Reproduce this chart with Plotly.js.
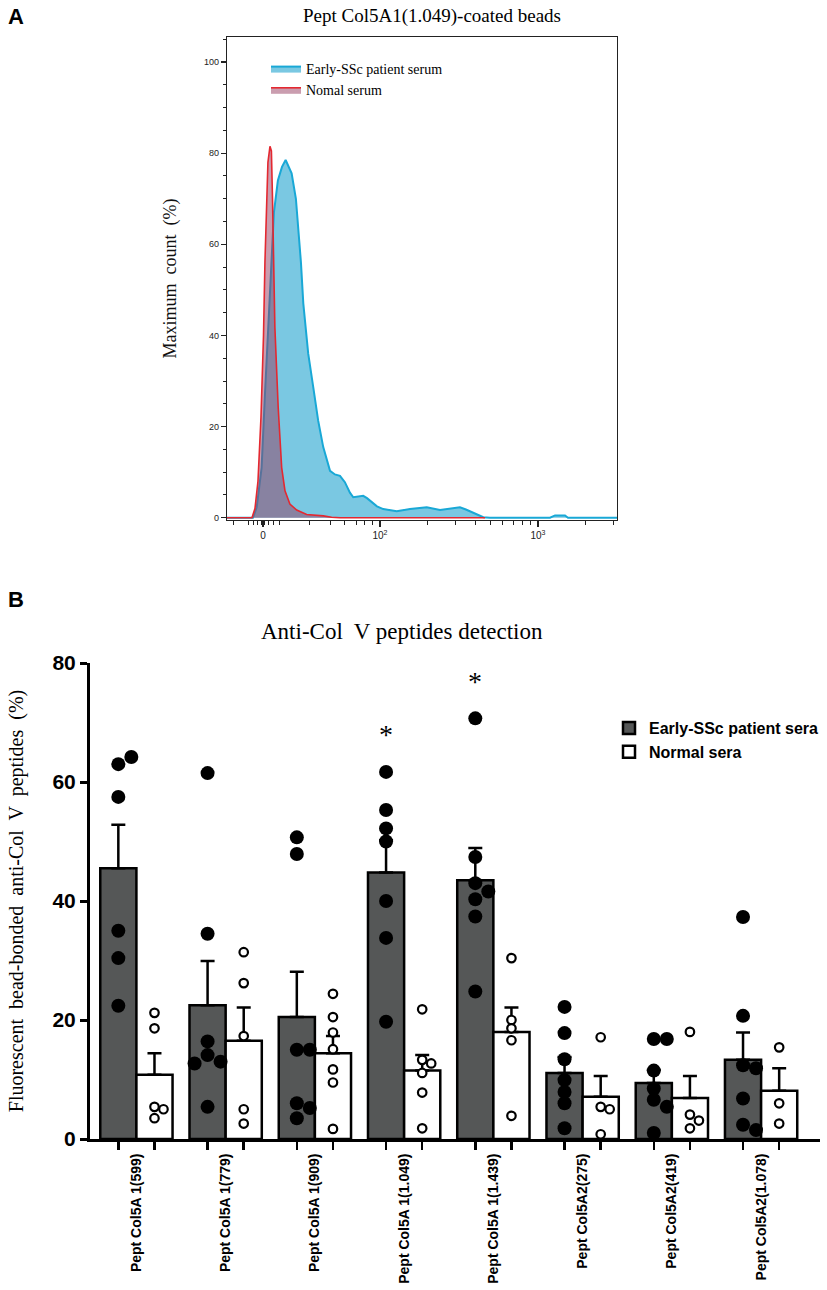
<!DOCTYPE html>
<html><head><meta charset="utf-8">
<script src="https://cdn.plot.ly/plotly-3.0.1.min.js"></script>
<style>html,body{margin:0;padding:0;background:#fff}#chart{width:827px;height:1290px}</style>
</head><body><div id="chart"></div>
<script>
// ---------- Panel A : flow cytometry histogram (display units: 2 = 10^2, 3 = 10^3) ----------
const fluorPatient = [1.032,1.196,1.220,1.251,1.272,1.293,1.315,1.329,1.354,1.380,1.403,1.421,1.441,1.468,1.487,1.500,1.515,1.546,1.578,1.609,1.641,1.684,1.715,1.747,1.778,1.810,1.831,1.861,1.894,1.918,1.947,1.981,2.021,2.106,2.190,2.296,2.380,2.443,2.506,2.544,2.580,2.620,2.654,2.696,3.076,3.108,3.171,3.190,3.500];
const countPatient = [0,0,2.3,11,27,41.8,54.3,67,74,77,78.5,77,75.6,70,62,56,47,36,28.6,21.3,15.5,10.3,9.5,9.2,7.8,5.5,4.5,4.6,4.8,4.3,3.5,2.5,1.9,1.4,1.9,2.3,1.7,2.0,2.3,1.8,1.2,0.5,0.1,0,0,0.5,0.5,0,0];
const fluorNormal = [1.032,1.190,1.209,1.228,1.247,1.263,1.272,1.282,1.291,1.304,1.313,1.320,1.325,1.335,1.356,1.378,1.399,1.430,1.473,1.536,1.641,1.694,1.747,2.665];
const countNormal = [0,0,2,8,22,40,56,68,78,81.5,80.5,70,56.5,41.8,24.2,11,5.9,3,1.7,0.7,0.4,0.1,0,0];
const xA_tickvals = [1.26, 2, 3];
const xA_ticktext = ['0', '10<sup>2</sup>', '10<sup>3</sup>'];
const xA_minorvals = [1.072,1.167,1.199,1.224,1.252,1.272,1.293,1.325,1.363,1.557,1.684,1.778,1.853,1.905,1.954,2.301,2.477,2.602,2.699,2.778,2.845,2.903,2.954,3.301,3.477];
const legendA = ['Early-SSc patient serum', 'Nomal serum'];

// ---------- Panel B : anti-Col V peptides ----------
const peptides = ['Pept Col5A 1(599)','Pept Col5A 1(779)','Pept Col5A 1(909)','Pept Col5A 1(1.049)','Pept Col5A 1(1.439)','Pept Col5A2(275)','Pept Col5A2(419)','Pept Col5A2(1.078)'];
const patientMean = [45.5, 22.5, 20.5, 44.8, 43.5, 11.1, 9.4, 13.3];
const patientSEM  = [7.3, 7.4, 7.6, 5.4, 5.4, 2.7, 2.2, 4.6];
const normalMean  = [10.8, 16.5, 14.4, 11.5, 18.0, 7.1, 6.9, 8.1];
const normalSEM   = [3.6, 5.6, 2.9, 2.6, 4.1, 3.5, 3.7, 3.8];
const patientPoints = [
  [63.0,64.2,57.5,35.0,30.4,22.4],
  [61.5,34.5,16.4,14.1,13.0,12.7,5.4],
  [50.7,47.9,15.0,15.0,6.0,5.2,3.5],
  [61.7,55.3,52.2,50.0,40.0,33.8,19.7],
  [70.7,47.4,43.0,41.6,40.3,37.4,24.8],
  [22.2,17.8,13.4,9.9,7.9,6.0,1.8],
  [16.8,16.8,11.5,8.5,6.6,5.4,1.0],
  [37.3,20.7,12.4,11.9,6.8,2.4,1.5]
];
const normalPoints = [
  [21.2,18.6,5.4,5.0,3.5],
  [31.4,26.2,17.3,5.0,2.6],
  [24.4,20.5,17.9,15.1,11.7,9.5,1.7],
  [21.8,13.3,12.7,11.1,7.8,1.8],
  [30.4,20.0,18.6,16.6,3.9],
  [17.1,5.4,5.0,0.8],
  [18.0,4.1,3.1,1.8],
  [15.4,6.0,2.6]
];
const significance = ['', '', '', '*', '*', '', '', ''];
const legendB = ['Early-SSc patient sera', 'Normal sera'];
const yB_ticks = [0, 20, 40, 60, 80];

// ---------- layout geometry ----------
const W = 827, H = 1290;
const px2x = p => p / W, px2y = p => 1 - p / H;
const domAx = [px2x(227), px2x(617)], domAy = [px2y(520), px2y(37)];
const domBx = [px2x(90), px2x(820)], domBy = [px2y(1139), px2y(663)];
const xBrange = [-0.52, 7.66], yBrange = [0, 80];
const BARGAP = 0.19;
const off = (1 - BARGAP) / 4;
const pxPerX = (domBx[1]-domBx[0]) * W / (xBrange[1]-xBrange[0]);
const pxPerY = (domBy[1]-domBy[0]) * H / (yBrange[1]-yBrange[0]);

function swarm(vals, center, diam) {
  const placed = [];
  return vals.map(v => {
    const yp = v * pxPerY;
    let chosen = 0;
    for (const c of [0, 1, -1, 2, -2]) {
      const xp = c * diam;
      if (placed.every(p => Math.hypot(p[0]-xp, p[1]-yp) >= diam * 0.85)) { chosen = xp; break; }
    }
    placed.push([chosen, yp]);
    return center + chosen / pxPerX;
  });
}

const idx = peptides.map((_, i) => i);
const data = [];
data.push({type:'scatter', x: fluorPatient, y: countPatient, mode:'lines', fill:'tozeroy',
  fillcolor:'rgb(122,200,226)', line:{color:'rgb(25,168,214)', width:2}, name: legendA[0],
  xaxis:'x', yaxis:'y', legend:'legend', hoverinfo:'skip'});
data.push({type:'scatter', x: fluorNormal, y: countNormal, mode:'lines', fill:'tozeroy',
  fillcolor:'rgba(150,60,95,0.5)', line:{color:'rgb(228,40,48)', width:1.6}, name: legendA[1],
  xaxis:'x', yaxis:'y', legend:'legend', hoverinfo:'skip'});

data.push({type:'bar', x: idx, y: patientMean, name: legendB[0], xaxis:'x2', yaxis:'y2', legend:'legend2',
  marker:{color:'#555757', line:{color:'#000', width:2.5}},
  error_y:{type:'data', symmetric:false, array: patientSEM, arrayminus: patientSEM.map(()=>0), color:'#000', thickness:2.5, width:7}});
data.push({type:'bar', x: idx, y: normalMean, name: legendB[1], xaxis:'x2', yaxis:'y2', legend:'legend2',
  marker:{color:'#ffffff', line:{color:'#000', width:2.5}},
  error_y:{type:'data', symmetric:false, array: normalSEM, arrayminus: normalSEM.map(()=>0), color:'#000', thickness:2.5, width:7}});

let px = [], py = [], nx = [], ny = [];
patientPoints.forEach((arr, i) => { px = px.concat(swarm(arr, i - off, 13)); py = py.concat(arr); });
normalPoints.forEach((arr, i) => { nx = nx.concat(swarm(arr, i + off, 9)); ny = ny.concat(arr); });
data.push({type:'scatter', mode:'markers', x: px, y: py, xaxis:'x2', yaxis:'y2', showlegend:false,
  marker:{color:'#000', size:14, line:{width:0}}, hoverinfo:'skip', cliponaxis:false});
data.push({type:'scatter', mode:'markers', x: nx, y: ny, xaxis:'x2', yaxis:'y2', showlegend:false,
  marker:{color:'#fff', size:8.5, line:{color:'#000', width:2.2}}, hoverinfo:'skip', cliponaxis:false});

const annotations = [
  {text:'<b>A</b>', xref:'paper', yref:'paper', x: px2x(6), y: px2y(16), xanchor:'left', yanchor:'middle', showarrow:false,
   font:{family:'Liberation Sans, Arial', size:22, color:'#000'}},
  {text:'<b>B</b>', xref:'paper', yref:'paper', x: px2x(6), y: px2y(600), xanchor:'left', yanchor:'middle', showarrow:false,
   font:{family:'Liberation Sans, Arial', size:22, color:'#000'}},
  {text:'Anti-Col  V peptides detection', xref:'paper', yref:'paper', x: px2x(402), y: px2y(632), xanchor:'center', yanchor:'middle', showarrow:false,
   font:{family:'Liberation Serif, Times New Roman', size:23, color:'#000'}}
];
significance.forEach((s, i) => {
  if (s) annotations.push({text: s, xref:'x2', yref:'y2', x: i - off, y: Math.max(...patientPoints[i]) + 3.3,
    xanchor:'center', yanchor:'bottom', showarrow:false, font:{family:'Liberation Serif, Times New Roman', size:28, color:'#000'}});
});

const layout = {
  width: W, height: H, margin:{l:0, r:0, t:0, b:0}, paper_bgcolor:'#fff', plot_bgcolor:'#fff',
  showlegend: true, barmode:'group', bargap: BARGAP, bargroupgap: 0,
  title:{text:'Pept Col5A1(1.049)-coated beads', x: px2x(432), xanchor:'center', y: px2y(15), yanchor:'middle',
    font:{family:'Liberation Serif, Times New Roman', size:19, color:'#000'}},
  xaxis:{domain: domAx, range:[1.032, 3.5], showgrid:false, zeroline:false, showline:true, mirror:true,
    linecolor:'#222', linewidth:1.2, ticks:'outside', ticklen:6, tickwidth:1.2, tickcolor:'#222',
    tickmode:'array', tickvals: xA_tickvals, ticktext: xA_ticktext,
    tickfont:{family:'Liberation Sans, Arial', size:10, color:'#222'},
    minor:{tickmode:'array', tickvals: xA_minorvals, ticks:'outside', ticklen:3.5, tickwidth:1, tickcolor:'#222', showgrid:false}},
  yaxis:{domain: domAy, range:[-0.5, 105.5], showgrid:false, zeroline:false, showline:true, mirror:true,
    linecolor:'#222', linewidth:1.2, ticks:'outside', ticklen:5, tickwidth:1.2, tickcolor:'#222',
    tickmode:'array', tickvals:[0,20,40,60,80,100], tickfont:{family:'Liberation Sans, Arial', size:9, color:'#222'},
    minor:{dtick:5, ticks:'outside', ticklen:3, tickwidth:1, tickcolor:'#222', showgrid:false},
    title:{text:'Maximum  count  (%)', standoff:22, font:{family:'Liberation Serif, Times New Roman', size:18, color:'#111'}}},
  xaxis2:{domain: domBx, range: xBrange, anchor:'y2', showgrid:false, zeroline:false, showline:true,
    linecolor:'#000', linewidth:3, ticks:'', tickmode:'array', tickvals: idx, ticktext: peptides, tickangle:-90,
    ticklabelstandoff: 6,
    tickfont:{family:'Liberation Sans, Arial', size:14, color:'#000', weight:'bold'},
    minor:{tickmode:'array', tickvals: idx.flatMap(i => [i - off, i + off]), ticks:'outside', ticklen:8, tickwidth:2.5, tickcolor:'#000', showgrid:false}},
  yaxis2:{domain: domBy, range: yBrange, anchor:'x2', showgrid:false, zeroline:false, showline:true,
    linecolor:'#000', linewidth:3, ticks:'outside', ticklen:7, tickwidth:3, tickcolor:'#000',
    tickmode:'array', tickvals: yB_ticks,
    tickfont:{family:'Liberation Sans, Arial', size:21, color:'#000', weight:'bold'},
    title:{text:'Fluorescent  bead-bonded  anti-Col  V  peptides  (%)', standoff:24, font:{family:'Liberation Serif, Times New Roman', size:20, color:'#000'}}},
  legend:{x: px2x(266), y: px2y(53), xanchor:'left', yanchor:'top', bgcolor:'rgba(0,0,0,0)', borderwidth:0,
    font:{family:'Liberation Serif, Times New Roman', size:14, color:'#000'}, itemwidth:30, tracegroupgap:0},
  legend2:{x: px2x(609), y: px2y(711), xanchor:'left', yanchor:'top', bgcolor:'rgba(0,0,0,0)', borderwidth:0,
    font:{family:'Liberation Sans, Arial', size:16, color:'#000', weight:'bold'}, itemwidth:30, tracegroupgap:0},
  annotations: annotations
};

Plotly.newPlot('chart', data, layout, {staticPlot:true, displayModeBar:false});
</script>
</body></html>
